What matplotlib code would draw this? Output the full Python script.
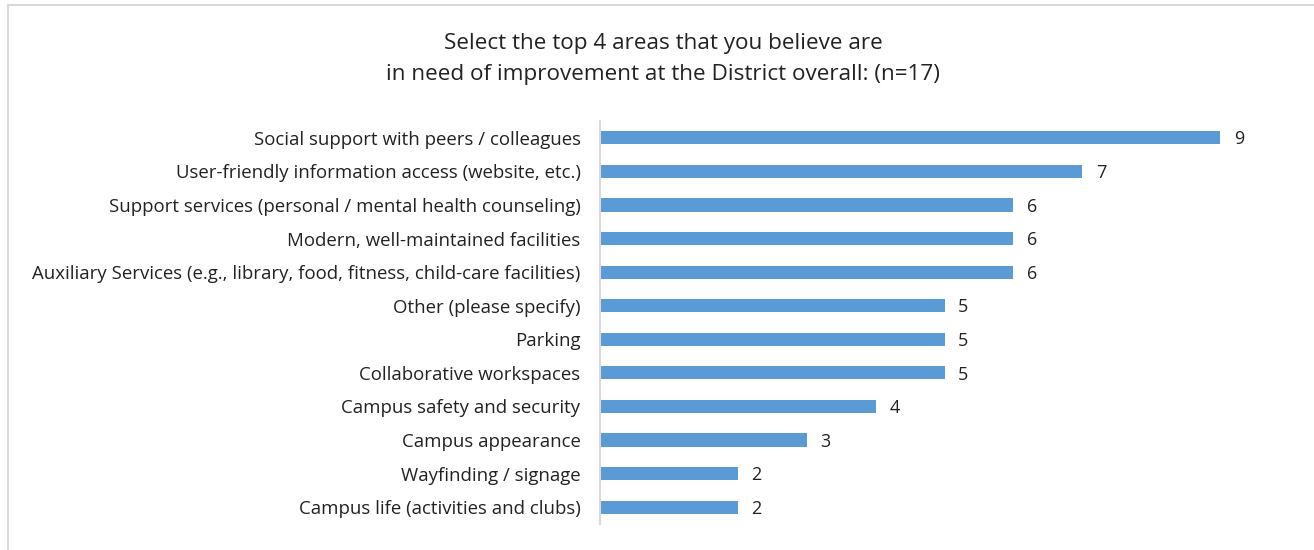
import matplotlib
matplotlib.use("Agg")
import matplotlib.pyplot as plt
from matplotlib.lines import Line2D

categories = [
    "Social support with peers / colleagues",
    "User-friendly information access (website, etc.)",
    "Support services (personal / mental health counseling)",
    "Modern, well-maintained facilities",
    "Auxiliary Services (e.g., library, food, fitness, child-care facilities)",
    "Other (please specify)",
    "Parking",
    "Collaborative workspaces",
    "Campus safety and security",
    "Campus appearance",
    "Wayfinding / signage",
    "Campus life (activities and clubs)",
]
counts = [9, 7, 6, 6, 6, 5, 5, 5, 4, 3, 2, 2]
title = "Select the top 4 areas that you believe are\nin need of improvement at the District overall: (n=17)"

plt.rcParams["font.family"] = ["Open Sans", "DejaVu Sans"]

W, H = 1314, 550
fig = plt.figure(figsize=(W / 100, H / 100), dpi=100, facecolor="white")

# chart frame (light gray border)
fig.add_artist(Line2D([8 / W, 8 / W], [0, 1 - 5 / H], color="#d9d9d9", lw=1.5))
fig.add_artist(Line2D([8 / W, 1], [1 - 5 / H, 1 - 5 / H], color="#d9d9d9", lw=1.5))

ax = fig.add_axes([600 / W, 26 / H, 689 / W, 403 / H])
y = list(range(len(categories)))
ax.barh(y, counts, height=0.39, color="#5B9BD5")
for yi, v in zip(y, counts):
    ax.text(v + 0.2, yi + 0.05, str(v), va="center", ha="left", fontsize=13, color="#222222")

ax.set_yticks(y)
ax.set_yticklabels(categories, fontsize=13.4, color="#222222")
ax.set_ylim(len(categories) - 0.5, -0.5)
ax.set_xlim(0, 10)
ax.set_xticks([])
ax.tick_params(axis="y", length=0, pad=14)
for s in ["top", "right", "bottom"]:
    ax.spines[s].set_visible(False)
ax.spines["left"].set_color("#d9d9d9")
ax.spines["left"].set_linewidth(1.5)

fig.text(663 / W, 1 - 59 / H, title, ha="center", va="center", fontsize=16.2, linespacing=1.65, color="#222222")

fig.savefig("out.png", dpi=100, facecolor="white")
